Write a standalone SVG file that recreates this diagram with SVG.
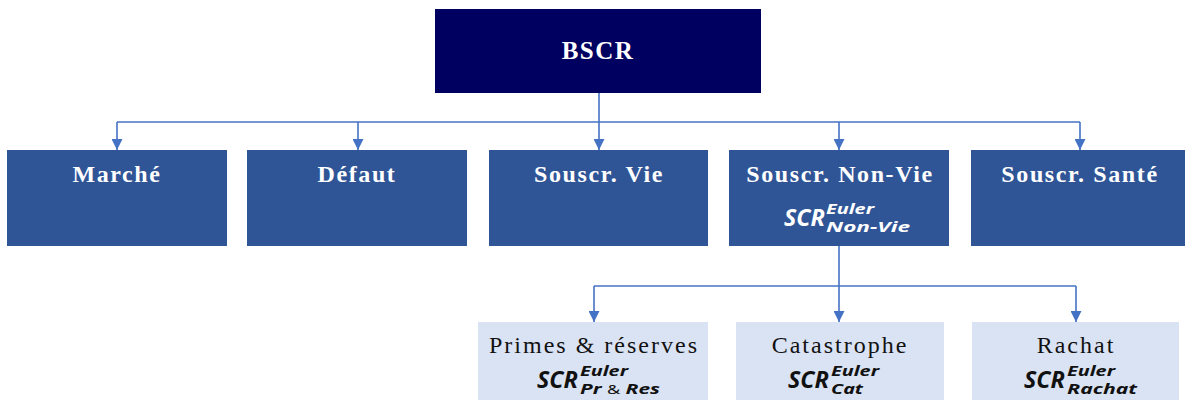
<svg xmlns="http://www.w3.org/2000/svg" width="1185" height="400" viewBox="0 0 1185 400">
<style>
.top{fill:#000060}
.l1{fill:#2F5597}
.l2{fill:#DAE3F3}
.t1{font-family:"Liberation Serif","DejaVu Serif",serif;font-weight:bold;font-size:24px;letter-spacing:1.6px;fill:#fff;text-anchor:middle}
.t0{font-family:"Liberation Serif","DejaVu Serif",serif;font-weight:bold;font-size:25px;letter-spacing:1.5px;fill:#fff;text-anchor:middle}
.t2{font-family:"Liberation Serif","DejaVu Serif",serif;font-size:24px;letter-spacing:2px;fill:#111;text-anchor:middle}
.f{font-family:"Noto Sans","DejaVu Sans",sans-serif;font-weight:bold;font-style:italic}
.fb{font-size:23px}
.fs{font-size:15px}
.amp{font-style:normal;font-weight:normal;font-size:13px}
.w{fill:#fff}
.k{fill:#111}
.c{fill:none;stroke:#4472C4;stroke-width:1.6}
</style>
<defs>
<marker id="ah" viewBox="0 0 10 10" refX="10" refY="5" markerWidth="11" markerHeight="11" markerUnits="userSpaceOnUse" orient="auto">
<path d="M0,0 L10,5 L0,10 z" fill="#4472C4"/>
</marker>
</defs>
<g id="connectors">
<path class="c" d="M599,93 V150" marker-end="url(#ah)"/>
<path class="c" d="M117,122 H1080"/>
<path class="c" d="M117,122 V150" marker-end="url(#ah)"/>
<path class="c" d="M358,122 V150" marker-end="url(#ah)"/>
<path class="c" d="M839,122 V150" marker-end="url(#ah)"/>
<path class="c" d="M1080,122 V150" marker-end="url(#ah)"/>
<path class="c" d="M839,246 V322" marker-end="url(#ah)"/>
<path class="c" d="M594,286 H1076"/>
<path class="c" d="M594,286 V322" marker-end="url(#ah)"/>
<path class="c" d="M1076,286 V322" marker-end="url(#ah)"/>
</g>
<g id="bscr">
<rect class="top" x="435" y="9" width="326" height="84"/>
<text class="t0" x="598" y="59">BSCR</text>
</g>
<g id="marche">
<rect class="l1" x="7" y="150" width="220" height="96"/>
<text class="t1" x="117" y="182">Marché</text>
</g>
<g id="defaut">
<rect class="l1" x="247" y="150" width="220" height="96"/>
<text class="t1" x="357" y="182">Défaut</text>
</g>
<g id="vie">
<rect class="l1" x="489" y="150" width="219" height="96"/>
<text class="t1" x="599" y="182">Souscr. Vie</text>
</g>
<g id="nonvie">
<rect class="l1" x="729" y="150" width="220" height="96"/>
<text class="t1" x="840" y="182">Souscr. Non-Vie</text>
<text class="f fb w" x="784" y="226" textLength="41" lengthAdjust="spacingAndGlyphs">SCR</text>
<text class="f fs w" x="826" y="214" textLength="48" lengthAdjust="spacingAndGlyphs">Euler</text>
<text class="f fs w" x="826" y="232" textLength="84" lengthAdjust="spacingAndGlyphs">Non−Vie</text>
</g>
<g id="sante">
<rect class="l1" x="971" y="150" width="220" height="96"/>
<text class="t1" x="1080" y="182">Souscr. Santé</text>
</g>
<g id="primes">
<rect class="l2" x="478" y="322" width="230" height="90"/>
<text class="t2" x="594" y="353">Primes &amp; réserves</text>
<text class="f fb k" x="537" y="388" textLength="41" lengthAdjust="spacingAndGlyphs">SCR</text>
<text class="f fs k" x="580" y="376" textLength="48" lengthAdjust="spacingAndGlyphs">Euler</text>
<text class="f fs k" x="580" y="394" textLength="80" lengthAdjust="spacingAndGlyphs">Pr <tspan class="amp">&amp;</tspan> Res</text>
</g>
<g id="cat">
<rect class="l2" x="736" y="322" width="208" height="90"/>
<text class="t2" x="840" y="353">Catastrophe</text>
<text class="f fb k" x="788" y="388" textLength="41" lengthAdjust="spacingAndGlyphs">SCR</text>
<text class="f fs k" x="831" y="376" textLength="48" lengthAdjust="spacingAndGlyphs">Euler</text>
<text class="f fs k" x="831" y="394" textLength="32" lengthAdjust="spacingAndGlyphs">Cat</text>
</g>
<g id="rachat">
<rect class="l2" x="972" y="322" width="207" height="90"/>
<text class="t2" x="1076" y="353">Rachat</text>
<text class="f fb k" x="1024" y="388" textLength="41" lengthAdjust="spacingAndGlyphs">SCR</text>
<text class="f fs k" x="1067" y="376" textLength="48" lengthAdjust="spacingAndGlyphs">Euler</text>
<text class="f fs k" x="1067" y="394" textLength="70" lengthAdjust="spacingAndGlyphs">Rachat</text>
</g>
</svg>
